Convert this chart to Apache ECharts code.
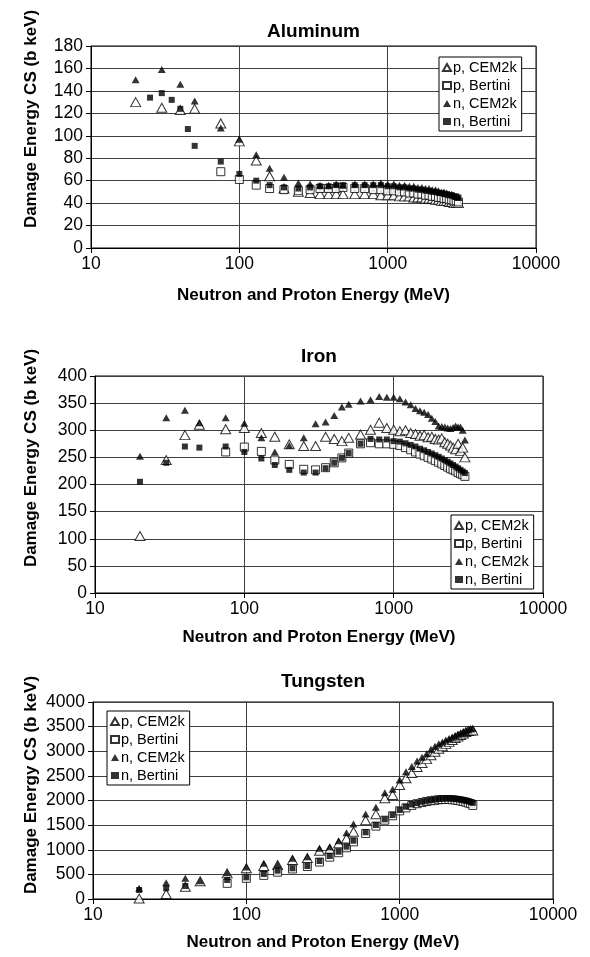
<!DOCTYPE html>
<html><head><meta charset="utf-8">
<script src="https://cdn.jsdelivr.net/npm/echarts@6.0.0/dist/echarts.min.js"></script>
<style>html,body{margin:0;padding:0;background:#fff}#c{width:590px;height:957px}</style>
</head><body><div id="c"></div>
<script>
const SERIES_NAMES = ['p, CEM2k', 'p, Bertini', 'n, CEM2k', 'n, Bertini'];
const CHART_TITLES = ['Aluminum', 'Iron', 'Tungsten'];
const X_TITLE = 'Neutron and Proton Energy (MeV)';
const Y_TITLE = 'Damage Energy CS (b keV)';
const X_MIN = 10, X_MAX = 10000;
const Y_MAX = [180, 400, 4000];
const Y_STEP = [20, 50, 500];

// energies (MeV)
const E_LOW_CEM = [20, 30, 40, 50, 75, 100, 130, 160, 200, 250];
const E_LOW_BERT = [75, 100, 130, 160, 200, 250];
const E_LOW_AL_NBERT = [25, 30, 35, 40, 45, 50, 75, 100, 130, 160, 200, 250];
const E_LOW_FE_NBERT = [20, 30, 40, 50, 75, 100, 130, 160, 200, 250];
const E_LOW_W_NBERT = [20, 30, 40, 75, 100, 130, 160, 200, 250];
const E_HI = [300, 350, 400, 450, 500, 600, 700, 800, 900,
  1000, 1100, 1200, 1300, 1400, 1500, 1600, 1700, 1800, 1900, 2000,
  2100, 2200, 2300, 2400, 2500, 2600, 2700, 2800, 2900, 3000];

// Aluminum
const AL_PCEM = [130, 125, 123, 124, 111, 95, 78, 64, 53, 50,
  49, 48, 48, 48, 48, 48, 48, 48, 47,
  47, 47, 46, 46, 46, 45, 45, 45, 44, 44, 44, 43, 43, 42, 42, 42, 41, 41, 40, 40, 40];
const AL_PBERT = [68, 61, 56, 53, 52, 51,
  52, 53, 53, 53, 54, 53, 53, 52, 52,
  51, 51, 50, 50, 49, 49, 48, 48, 47, 47, 46, 46, 45, 45, 44, 44, 43, 43, 42, 42, 41];
const AL_NCEM = [150, 159, 146, 131, 107, 97, 83, 71, 63, 58,
  57, 56, 56, 57, 56, 57, 57, 57, 58,
  57, 57, 56, 56, 55, 55, 54, 54, 53, 53, 52, 52, 51, 50, 50, 49, 48, 48, 47, 46, 45];
const AL_NBERT = [134, 138, 132, 124, 106, 91, 77, 66, 60, 56, 54, 53,
  54, 55, 55, 56, 56, 56, 56, 56, 56,
  55, 55, 54, 54, 53, 53, 52, 52, 51, 51, 50, 50, 49, 49, 48, 48, 47, 47, 46, 46, 45];

// Iron
const FE_PCEM = [105, 245, 291, 310, 302, 304, 295, 288, 274, 271,
  271, 288, 284, 280, 286, 292, 301, 314, 304,
  301, 298, 300, 295, 293, 290, 291, 287, 288, 284, 283, 285, 278, 275, 272, 268, 265, 275, 262, 268, 250];
const FE_PBERT = [260, 269, 261, 245, 237, 228,
  227, 231, 240, 249, 258, 275, 277, 275, 275,
  274, 272, 268, 264, 260, 256, 253, 250, 247, 244, 241, 238, 235, 232, 229, 227, 225, 222, 220, 218, 215];
const FE_NCEM = [252, 323, 337, 314, 323, 313, 286, 260, 272, 286,
  312, 315, 327, 343, 348, 354, 356, 362, 361,
  361, 358, 352, 347, 340, 336, 333, 329, 322, 316, 308, 307, 306, 304, 303, 305, 308, 306, 306, 300, 282];
const FE_NBERT = [205, 240, 270, 268, 270, 260, 248, 236, 227, 222,
  222, 230, 240, 249, 258, 275, 284, 283, 283,
  280, 279, 276, 273, 270, 266, 263, 260, 257, 254, 251, 248, 245, 242, 239, 236, 233, 230, 227, 224, 221];

// Tungsten
const W_PCEM = [10, 100, 250, 360, 520, 623, 670, 690, 792, 830,
  980, 1010, 1130, 1230, 1367, 1600, 1720, 2045, 2112,
  2315, 2450, 2560, 2680, 2760, 2840, 2920, 2990, 3050, 3100, 3150, 3190, 3230, 3270, 3300, 3330, 3360, 3390, 3410, 3420, 3420];
const W_PBERT = [318, 420, 480, 545, 610, 660,
  750, 850, 940, 1040, 1160, 1330, 1480, 1600, 1690,
  1790, 1850, 1900, 1935, 1960, 1980, 1995, 2005, 2015, 2020, 2020, 2020, 2015, 2010, 2000, 1990, 1980, 1965, 1950, 1935, 1900];
const W_NCEM = [217, 331, 420, 372, 534, 650, 725, 700, 826, 859,
  1029, 1062, 1184, 1346, 1523, 1726, 1862, 2158, 2227,
  2416, 2585, 2690, 2800, 2880, 2950, 3040, 3100, 3150, 3190, 3230, 3260, 3290, 3320, 3350, 3370, 3390, 3410, 3430, 3450, 3460];
const W_NBERT = [183, 217, 264, 386, 440, 508, 575, 623, 670,
  771, 873, 960, 1062, 1184, 1354, 1502, 1618, 1706,
  1807, 1874, 1920, 1950, 1975, 1995, 2010, 2020, 2030, 2035, 2040, 2040, 2035, 2030, 2025, 2015, 2005, 1995, 1985, 1970, 1950];

const PANELS = [
  [[E_LOW_CEM, AL_PCEM], [E_LOW_BERT, AL_PBERT], [E_LOW_CEM, AL_NCEM], [E_LOW_AL_NBERT, AL_NBERT]],
  [[E_LOW_CEM, FE_PCEM], [E_LOW_BERT, FE_PBERT], [E_LOW_CEM, FE_NCEM], [E_LOW_FE_NBERT, FE_NBERT]],
  [[E_LOW_CEM, W_PCEM], [E_LOW_BERT, W_PBERT], [E_LOW_CEM, W_NCEM], [E_LOW_W_NBERT, W_NBERT]]
];

// layout (pixels)
const LAYOUT = [
  {left: 91, width: 445, top: 46, height: 202, titleTop: 22, xNameGap: 39, yTitleX: 31, yTitleY: 119, legLeft: 439, legTop: 57},
  {left: 95, width: 448, top: 376, height: 217, titleTop: 347, xNameGap: 36, yTitleX: 31, yTitleY: 458, legLeft: 451, legTop: 515},
  {left: 93, width: 460, top: 702, height: 197, titleTop: 672, xNameGap: 35, yTitleX: 31, yTitleY: 785, legLeft: 107, legTop: 711}
];

const FONT = '"Liberation Sans", Arial, Helvetica, sans-serif';
const STYLES = [
  {symbol: 'triangle', symbolSize: [10, 9], itemStyle: {color: '#fff', borderColor: '#000', borderWidth: 1}},
  {symbol: 'rect', symbolSize: [8, 8], itemStyle: {color: '#fff', borderColor: '#000', borderWidth: 1}},
  {symbol: 'triangle', symbolSize: [8, 7], itemStyle: {color: '#000', borderWidth: 0}},
  {symbol: 'rect', symbolSize: [6, 6], itemStyle: {color: '#000', borderWidth: 0}}
];

function zip(E, V) {
  const full = E.concat(E_HI);
  return V.map((v, i) => [full[i], v]);
}

const option = {
  animation: false,
  backgroundColor: '#fff',
  textStyle: {fontFamily: FONT, color: '#000'},
  title: [], grid: [], xAxis: [], yAxis: [], legend: [], series: [], graphic: []
};

LAYOUT.forEach((L, p) => {
  option.title.push({
    text: CHART_TITLES[p], left: L.left + L.width / 2, top: L.titleTop, textAlign: 'center', padding: 0,
    textStyle: {fontFamily: FONT, fontSize: 19, fontWeight: 'bold', color: '#000'}
  });
  option.grid.push({left: L.left, top: L.top, width: L.width, height: L.height, show: true, borderColor: '#000', borderWidth: 1, backgroundColor: 'transparent'});
  option.xAxis.push({
    gridIndex: p, type: 'log', logBase: 10, min: X_MIN, max: X_MAX,
    name: X_TITLE, nameLocation: 'middle', nameGap: L.xNameGap,
    nameTextStyle: {fontFamily: FONT, fontSize: 17, fontWeight: 'bold', color: '#000'},
    axisLine: {show: true, lineStyle: {color: '#000', width: 1}},
    axisTick: {show: true, length: 5, lineStyle: {color: '#000'}},
    minorTick: {show: false},
    axisLabel: {fontFamily: FONT, fontSize: 17.5, color: '#000', margin: 7, formatter: v => String(Math.round(v))},
    splitLine: {show: true, lineStyle: {color: '#404040', width: 1}}
  });
  option.yAxis.push({
    gridIndex: p, type: 'value', min: 0, max: Y_MAX[p], interval: Y_STEP[p],
    axisLine: {show: true, lineStyle: {color: '#000', width: 1}},
    axisTick: {show: true, length: 5, lineStyle: {color: '#000'}},
    axisLabel: {fontFamily: FONT, fontSize: 17.5, color: '#000', margin: 8, formatter: v => String(v)},
    splitLine: {show: true, lineStyle: {color: '#404040', width: 1}}
  });
  option.legend.push({
    orient: 'vertical', left: L.legLeft, top: L.legTop, selectedMode: false,
    itemWidth: 8, itemHeight: 7, itemGap: 3, padding: [3, 5, 2, 3],
    backgroundColor: '#fff', borderColor: '#000', borderWidth: 1, borderRadius: 0,
    textStyle: {fontFamily: FONT, fontSize: 14.5, color: '#000', lineHeight: 15, padding: [0, 0, 0, -3]},
    data: SERIES_NAMES.slice()
  });
  option.graphic.push({
    type: 'text', x: L.yTitleX, y: L.yTitleY, rotation: Math.PI / 2,
    style: {text: Y_TITLE, fill: '#000', font: 'bold 17px ' + FONT, align: 'center', verticalAlign: 'middle'}
  });
  PANELS[p].forEach((pair, s) => {
    option.series.push(Object.assign({
      type: 'scatter', name: SERIES_NAMES[s], xAxisIndex: p, yAxisIndex: p,
      data: zip(pair[0], pair[1]), emphasis: {disabled: true}, silent: true
    }, STYLES[s]));
  });
});

const chart = echarts.init(document.getElementById('c'), null, {renderer: 'canvas'});
chart.setOption(option);
</script>
</body></html>
